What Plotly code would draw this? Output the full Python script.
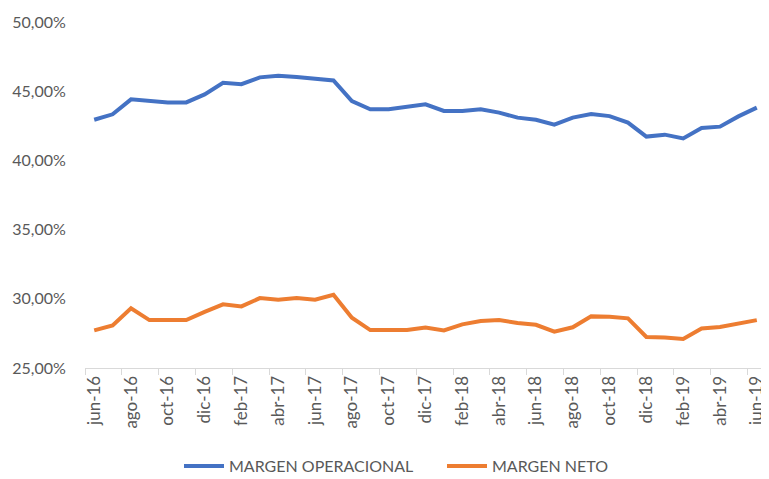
import plotly.graph_objects as go

months = ["jun-16","jul-16","ago-16","sep-16","oct-16","nov-16","dic-16","ene-17","feb-17","mar-17","abr-17","may-17",
          "jun-17","jul-17","ago-17","sep-17","oct-17","nov-17","dic-17","ene-18","feb-18","mar-18","abr-18","may-18",
          "jun-18","jul-18","ago-18","sep-18","oct-18","nov-18","dic-18","ene-19","feb-19","mar-19","abr-19","may-19","jun-19"]

margen_operacional = [42.94, 43.33, 44.41, 44.31, 44.19, 44.19, 44.77, 45.61, 45.51, 46.00, 46.12, 46.02,
                      45.92, 45.78, 44.29, 43.69, 43.69, 43.90, 44.05, 43.57, 43.57, 43.69, 43.45, 43.09,
                      42.94, 42.58, 43.09, 43.35, 43.20, 42.73, 41.72, 41.86, 41.59, 42.34, 42.44, 43.18, 43.81]

margen_neto = [27.72, 28.08, 29.31, 28.46, 28.46, 28.46, 29.06, 29.60, 29.45, 30.05, 29.93, 30.05,
               29.93, 30.29, 28.63, 27.74, 27.74, 27.74, 27.93, 27.72, 28.15, 28.39, 28.46, 28.25,
               28.12, 27.62, 27.94, 28.73, 28.70, 28.59, 27.24, 27.21, 27.09, 27.86, 27.96, 28.22, 28.46]

series_names = ["MARGEN OPERACIONAL", "MARGEN NETO"]
y_ticks = [25, 30, 35, 40, 45, 50]
y_ticktext = ["25,00%", "30,00%", "35,00%", "40,00%", "45,00%", "50,00%"]

FONT = "Lato, 'Open Sans', sans-serif"
GRAY = "#595959"

fig = go.Figure()
fig.add_trace(go.Scatter(x=months, y=margen_operacional, mode="lines", name=series_names[0],
                         line=dict(color="#4472C4", width=4)))
fig.add_trace(go.Scatter(x=months, y=margen_neto, mode="lines", name=series_names[1],
                         line=dict(color="#ED7D31", width=4)))

# page body adds an 8px offset; figure sized to fit the 769x479 window
fig.update_layout(
    width=761, height=471,
    margin=dict(l=77, r=3, t=14, b=111),
    paper_bgcolor="white", plot_bgcolor="white",
    font=dict(family=FONT, size=16, color=GRAY),
    showlegend=True,
    legend=dict(orientation="h", xref="container", yref="container",
                x=0.2247, xanchor="left", y=0.0276, yanchor="middle",
                font=dict(size=16, color=GRAY), itemwidth=40, tracegroupgap=0,
                entrywidth=208, entrywidthmode="pixels"),
    xaxis=dict(type="category", tickmode="linear", tick0=0, dtick=2, tickson="boundaries",
               tickangle=-90, ticks="outside", ticklen=6, tickcolor="#d9d9d9",
               showline=True, linecolor="#d9d9d9", linewidth=1, showgrid=False,
               range=[-0.5, len(months) - 0.5], automargin=False,
               tickfont=dict(size=17, color=GRAY)),
    yaxis=dict(range=[25, 50], tickmode="array", tickvals=y_ticks, ticktext=y_ticktext,
               showgrid=False, zeroline=False, showline=False, ticks="outside", ticklen=15,
               tickcolor="rgba(0,0,0,0)", automargin=False,
               tickfont=dict(size=16, color=GRAY)),
)

fig.write_html("out.html")
